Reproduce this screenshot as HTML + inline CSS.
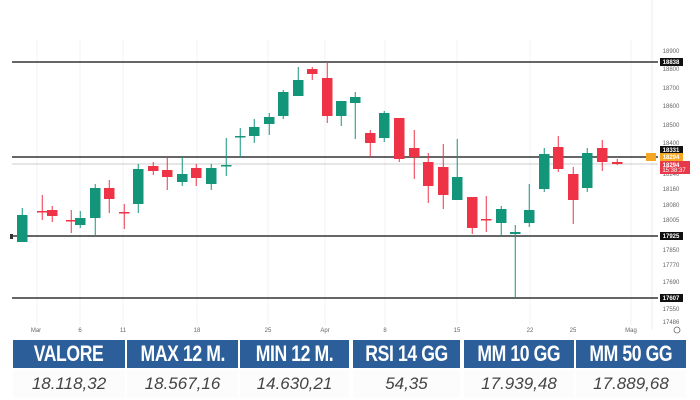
<!DOCTYPE html>
<html><head><meta charset="utf-8"><style>
body{margin:0;width:700px;height:400px;background:#fff;overflow:hidden;font-family:"Liberation Sans",sans-serif}
svg{position:absolute;left:0;top:0}
.tbl{position:absolute;left:12px;top:340px;width:676px}
.h,.v{position:absolute;display:flex;align-items:center;justify-content:center}
.h{top:0;height:28px;background:#2c5f9a;color:#fff;font-weight:bold;font-size:22px;letter-spacing:-0.5px}
.h span{display:inline-block;transform:scaleX(0.8);white-space:nowrap}
.v{top:30px;height:28px;font-style:italic;font-size:17px;color:#444;background:#fcfcfc}
</style></head><body>
<svg width="700" height="400" viewBox="0 0 700 400">
<g stroke="#f2f3f5" stroke-width="1">
<line x1="37" y1="40" x2="37" y2="325"/><line x1="80" y1="40" x2="80" y2="325"/><line x1="123" y1="40" x2="123" y2="325"/><line x1="197" y1="40" x2="197" y2="325"/><line x1="268" y1="40" x2="268" y2="325"/><line x1="325" y1="40" x2="325" y2="325"/><line x1="385" y1="40" x2="385" y2="325"/><line x1="457" y1="40" x2="457" y2="325"/><line x1="530" y1="40" x2="530" y2="325"/><line x1="631" y1="40" x2="631" y2="325"/>
</g>
<line x1="652" y1="0" x2="652" y2="330" stroke="#eee"/>
<g stroke="#333" stroke-width="1.5">
<line x1="12" y1="62" x2="658" y2="62"/><line x1="12" y1="157" x2="658" y2="157"/><line x1="12" y1="236" x2="658" y2="236"/><line x1="12" y1="298" x2="658" y2="298"/>
</g>
<line x1="12" y1="164" x2="658" y2="164" stroke="#bbb" stroke-width="0.8"/>
<g id="c"></g>
<g font-size="6" fill="#666" text-anchor="middle">
<text x="671" y="53">18900</text><text x="671" y="71">18800</text><text x="671" y="90">18700</text><text x="671" y="108">18600</text><text x="671" y="127">18500</text><text x="671" y="145">18400</text><text x="671" y="176">18240</text><text x="671" y="191">18160</text><text x="671" y="207">18080</text><text x="671" y="222">18005</text><text x="671" y="252">17850</text><text x="671" y="267">17770</text><text x="671" y="284">17690</text><text x="671" y="311">17550</text><text x="671" y="324">17486</text>
<text x="36" y="332">Mar</text><text x="80" y="332">6</text><text x="123" y="332">11</text><text x="197" y="332">18</text><text x="268" y="332">25</text><text x="325" y="332">Apr</text><text x="385" y="332">8</text><text x="457" y="332">15</text><text x="530" y="332">22</text><text x="573" y="332">25</text><text x="631" y="332">Mag</text>
</g>
<circle cx="677" cy="330" r="3" fill="none" stroke="#666" stroke-width="0.8"/>
<g font-size="6" fill="#fff" text-anchor="middle" font-weight="bold">
<rect x="660" y="58" width="23" height="8" fill="#111"/><text x="671" y="64">18838</text>
<rect x="660" y="146" width="23" height="8" fill="#111"/><text x="671" y="152">18331</text>
<rect x="646" y="153" width="10" height="8" fill="#f5a623"/><rect x="660" y="153" width="23" height="8" fill="#f5a623"/><text x="671" y="159">18294</text>
<rect x="660" y="161" width="30" height="13" fill="#e8394a"/><text x="671" y="167">18294</text><text x="674" y="172" font-weight="normal">15:38:37</text>
<rect x="660" y="232" width="23" height="8" fill="#111"/><text x="671" y="238">17925</text>
<rect x="660" y="294" width="23" height="8" fill="#111"/><text x="671" y="300">17607</text>
</g>
<rect x="10" y="234" width="3" height="5" fill="#333"/>
</svg>
<div class="tbl">
<div class="h" style="left:1px;width:112px"><span>VALORE</span></div><div class="h" style="left:115px;width:111px"><span>MAX 12 M.</span></div><div class="h" style="left:228px;width:109px"><span>MIN 12 M.</span></div><div class="h" style="left:341px;width:107px"><span>RSI 14 GG</span></div><div class="h" style="left:452px;width:110px"><span>MM 10 GG</span></div><div class="h" style="left:564px;width:110px"><span>MM 50 GG</span></div>
<div class="v" style="left:1px;width:112px">18.118,32</div><div class="v" style="left:115px;width:111px">18.567,16</div><div class="v" style="left:228px;width:109px">14.630,21</div><div class="v" style="left:341px;width:107px">54,35</div><div class="v" style="left:452px;width:110px">17.939,48</div><div class="v" style="left:564px;width:110px">17.889,68</div>
</div>
<script>
var d=[[17,1,215,242,208,242],[37,0,211,212,195,220],[47,0,210,216,206,222],[66,0,220,221,210,233],[75,1,218,225,211,228],[90,1,188,218,184,236],[104,0,188,199,180,213],[119,0,212,213,204,229],[133,1,169,204,164,213],[148,0,166,171,162,175],[162,0,170,177,157,190],[177,1,174,182,157,186],[191,0,168,178,164,186],[206,1,168,184,164,190],[221,1,165,166,138,176],[235,1,136,137,128,157],[249,1,127,136,119,143],[264,1,117,124,113,135],[278,1,92,116,90,119],[293,1,80,96,67,96],[307,0,69,74,67,80],[322,0,78,116,62,123],[336,1,101,116,101,126],[350,1,97,103,92,139],[365,0,133,143,130,157],[379,1,113,138,111,142],[394,0,118,159,118,162],[409,0,148,157,130,179],[423,0,162,186,153,203],[438,0,167,195,144,209],[452,1,177,200,139,200],[467,0,197,228,197,234],[481,0,219,220,196,232],[496,1,209,223,206,236],[510,1,232,234,225,298],[524,1,210,223,184,227],[539,1,154,189,148,192],[553,0,147,169,136,172],[568,0,174,200,167,224],[582,1,153,188,148,192],[597,0,148,162,140,171],[612,0,162,164,159,165]];
var g=document.getElementById('c'),s='';
d.forEach(function(c){var col=c[1]?'#13957a':'#ef3347',x=c[0],w=10.5,h=Math.max(c[3]-c[2],1.5);
s+='<line x1="'+(x+w/2)+'" y1="'+c[4]+'" x2="'+(x+w/2)+'" y2="'+c[5]+'" stroke="'+col+'" stroke-width="1"/>';
s+='<rect x="'+x+'" y="'+c[2]+'" width="'+w+'" height="'+h+'" fill="'+col+'"/>';});
g.innerHTML=s;
</script>
</body></html>
